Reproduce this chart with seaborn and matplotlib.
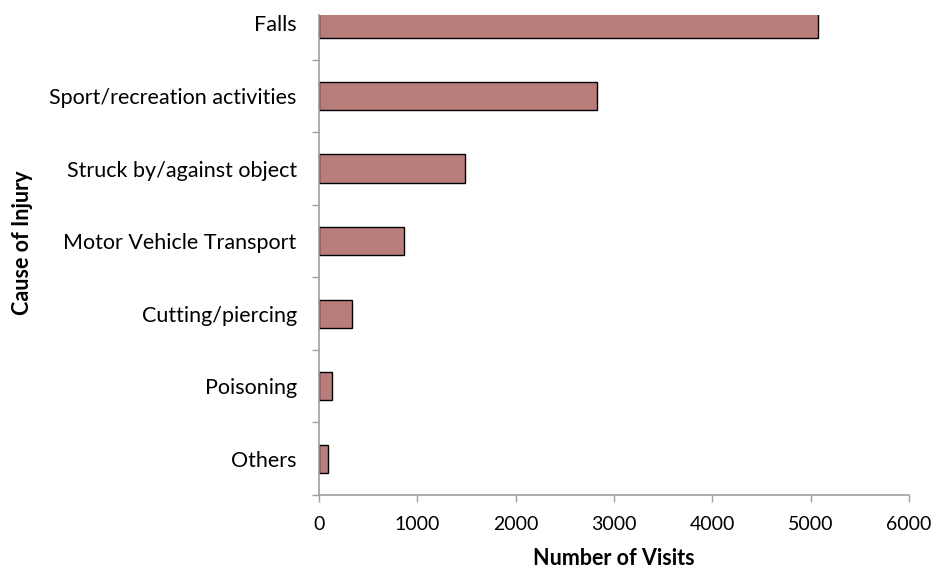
import matplotlib
matplotlib.use("Agg")
import matplotlib.pyplot as plt
from matplotlib.ticker import FixedLocator
import seaborn as sns

causes = ["Falls", "Sport/recreation activities", "Struck by/against object",
          "Motor Vehicle Transport", "Cutting/piercing", "Poisoning", "Others"]
visits = [5070, 2830, 1490, 865, 340, 135, 95]
xticks = [0, 1000, 2000, 3000, 4000, 5000, 6000]

sns.set_style("white")
plt.rcParams['font.family'] = ['Lato', 'DejaVu Sans']
plt.rcParams['text.color'] = 'black'
plt.rcParams['axes.labelcolor'] = 'black'
plt.rcParams['xtick.labelcolor'] = 'black'
plt.rcParams['ytick.labelcolor'] = 'black'

fig = plt.figure(figsize=(9.37, 5.71), dpi=100)
ax = fig.add_axes([0.3404, 0.1331, 0.6297, 0.8415])

sns.barplot(x=visits, y=causes, orient='h', color="#B97E7B", saturation=1,
            width=0.39, edgecolor='black', linewidth=1.0, ax=ax)

ax.set_xlim(0, 6000)
ax.set_ylim(6.5, -0.124)
ax.set_xticks(xticks)
ax.set_xticklabels([str(t) for t in xticks], fontsize=14)

# category labels without marks; marks sit between categories
ax.tick_params(axis='y', which='major', length=0, pad=16, labelsize=15.5)
ax.yaxis.set_minor_locator(FixedLocator([i + 0.5 for i in range(-1, len(causes))]))
ax.tick_params(axis='y', which='minor', left=True, length=5, width=1, color='#A0A0A0')
ax.tick_params(axis='x', which='major', bottom=True, length=5, width=1, color='#A0A0A0', pad=10)

for s in ['top', 'right']:
    ax.spines[s].set_visible(False)
for s in ['left', 'bottom']:
    ax.spines[s].set_color('#A0A0A0')
    ax.spines[s].set_linewidth(1.2)

ax.set_xlabel("Number of Visits", fontsize=15.5, fontweight='bold')
ax.xaxis.set_label_coords(0.5, -0.11)
ax.set_ylabel("Cause of Injury", fontsize=15.5, fontweight='bold')
ax.yaxis.set_label_coords(-0.485, 0.525)

fig.savefig("out.png", dpi=100)
